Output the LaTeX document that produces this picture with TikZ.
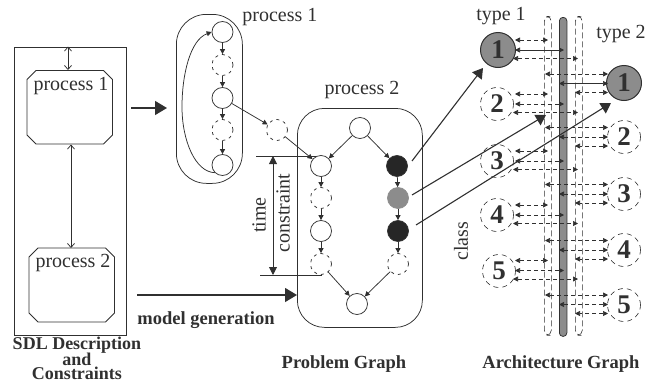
\documentclass[tikz,border=0pt]{standalone}
\usepackage{fontspec}
\setmainfont{Liberation Serif}
\usetikzlibrary{arrows.meta}
\definecolor{ink}{HTML}{303030}
\definecolor{busgray}{HTML}{8C8C8C}
\tikzset{
  every node/.style={text=ink,inner sep=0pt},
  lbl/.style={font=\fontsize{20}{20}\selectfont},
  captxt/.style={font=\fontsize{18.5}{16}\selectfont\bfseries},
  sdltxt/.style={font=\fontsize{18}{16}\selectfont\bfseries,anchor=base},
  numtxt/.style={font=\fontsize{27}{27}\selectfont\bfseries},
  pnode/.style={circle,draw,fill=white,minimum size=21pt},
  pdash/.style={pnode,dash pattern=on 3pt off 4pt},
  pblack/.style={pnode,fill=black!85},
  pgray/.style={pnode,fill=busgray,draw=busgray},
  anode/.style={circle,draw,line width=1pt,fill=busgray,minimum size=35pt,numtxt},
  adash/.style={circle,draw,minimum size=33pt,numtxt,dash pattern=on 5pt off 4pt,line width=0.6pt},
  tipsmall/.style={-{Triangle[length=5pt,width=5pt]}},
  tipboth/.style={{Triangle[length=5pt,width=5pt]}-{Triangle[length=5pt,width=5pt]}},
  tipbothd/.style={tipboth,dash pattern=on 4pt off 3pt,line width=0.7pt},
  tipopen/.style={{Straight Barb[length=4pt,width=7pt]}-{Straight Barb[length=4pt,width=7pt]}},
  tipbig/.style={-{Triangle[length=12pt,width=14pt]},line width=1.2pt},
  tipmid/.style={-{Triangle[length=10pt,width=12pt]},line width=1.1pt},
  railbox/.style={draw,rounded corners=5pt,dash pattern=on 6pt off 3pt,line width=0.6pt},
}
\begin{document}
\begin{tikzpicture}[x=1pt,y=-1pt,color=ink,line width=0.75pt]
\useasboundingbox (0,0) rectangle (646,383);
% SDL box
\node[draw,minimum width=112pt,minimum height=288.5pt,anchor=north west] (sdl) at (14,46.5) {};
\draw (36,70.5) -- (103.5,70.5) -- (112.5,79.5) -- (112.5,135) -- (103.5,144) -- (36,144) -- (27,135) -- (27,79.5) -- cycle;
\draw (38,248) -- (105.5,248) -- (114.5,257) -- (114.5,313) -- (105.5,322) -- (38,322) -- (29,313) -- (29,257) -- cycle;
\node[lbl] (sp1t) at (71,86) {process 1};
\node[lbl] (sp2t) at (73,263) {process 2};
\coordinate (sdltop) at (68,46.5);
\coordinate (p1top) at (68,70);
\coordinate (p1bot) at (71,144.5);
\coordinate (p2top) at (71,248);
\draw[tipopen] (sdltop) -- (p1top);
\draw[tipopen] (p1bot) -- (p2top);
\node[sdltxt] (sdlcap1) at (77,349) {SDL Description};
\node[sdltxt] (sdlcap2) at (77,365) {and};
\node[sdltxt] (sdlcap3) at (77,379) {Constraints};
% Process 1
\node[draw,rounded corners=30pt,minimum width=66pt,minimum height=169pt,anchor=north west] (pg1) at (176,14) {};
\node[lbl,anchor=west] (pg1t) at (242,17) {process 1};
\node[pnode] (a1) at (222.5,32) {};
\node[pdash] (a2) at (222.5,65) {};
\node[pnode] (a3) at (222.5,98) {};
\node[pdash] (a4) at (222.5,130) {};
\node[pnode] (a5) at (222.5,165) {};
\foreach \s/\t in {a1/a2,a2/a3,a3/a4,a4/a5} \draw[tipsmall] (\s) -- (\t);
\draw[tipsmall] (a5.south west) .. controls (195,172) and (182,140) .. (182,107) .. controls (182,75) and (190,40) .. (a1.west);
% Transfer
\node[pdash] (x) at (277,130) {};
% Process 2
\node[draw,rounded corners=27pt,minimum width=125pt,minimum height=219pt,anchor=north west] (pg2) at (297,108) {};
\node[lbl] (pg2t) at (362,90) {process 2};
\node[pnode] (top) at (360,128) {};
\node[pnode] (l1) at (321,166) {};
\node[pdash] (l2) at (321,198) {};
\node[pnode] (l3) at (321,231) {};
\node[pdash] (l4) at (321,264) {};
\node[pblack] (r1) at (397,166) {};
\node[pgray] (r2) at (398,198) {};
\node[pblack] (r3) at (398,231) {};
\node[pdash] (r4) at (398,264) {};
\node[pnode] (bot) at (357,304) {};
\foreach \s/\t in {l1/l2,l2/l3,l3/l4,r1/r2,r2/r3,r3/r4,top/l1,top/r1,l4/bot,r4/bot,a3/x,x/l1} \draw[tipsmall] (\s) -- (\t);
% time constraint
\coordinate (t1a) at (256,156); \coordinate (t1b) at (316,156);
\coordinate (t2a) at (260,275); \coordinate (t2b) at (322,275);
\draw[line width=0.9pt] (t1a) -- (t1b);
\draw[line width=0.9pt] (t2a) -- (t2b);
\coordinate (ta) at (273,156); \coordinate (tb) at (273,275);
\draw[{Triangle[length=8pt,width=8pt]}-{Triangle[length=8pt,width=8pt]},line width=0.9pt] (ta) -- (tb);
\node[lbl,rotate=90] (tt) at (259,215) {time};
\node[lbl,rotate=90] (tc) at (283,213) {constraint};
% big arrows
\coordinate (b1a) at (131,108); \coordinate (b1b) at (167,108);
\draw[tipbig] (b1a) -- (b1b);
\coordinate (b2a) at (137,295);
\draw[tipbig] (b2a) -- (pg2.west |- b2a);
\node[captxt,anchor=west] (mg) at (137,320) {model generation};
\node[captxt] (pgcap) at (344,364) {Problem Graph};
\node[captxt] (agcap) at (561,364) {Architecture Graph};
\node[lbl] (ty1) at (501,16) {type 1};
\node[lbl] (ty2) at (621,34) {type 2};
\node[lbl,rotate=90] (cl) at (461,241) {class};
% Bus
\node[railbox,minimum width=7pt,minimum height=319pt,anchor=north west] (railL) at (544,16) {};
\node[railbox,minimum width=7pt,minimum height=319pt,anchor=north west] (railR) at (575,16) {};
\node[draw,fill=busgray,rounded corners=3.5pt,minimum width=7.5pt,minimum height=319pt,anchor=north west] (bus) at (559,17) {};
% Arch nodes
\node[anode] (t1) at (498,50) {1};
\node[anode] (t2) at (624,83) {1};
\node[adash] (n2) at (497,104) {2};
\node[adash] (n3) at (497,161) {3};
\node[adash] (n4) at (497,215) {4};
\node[adash] (n5) at (499,271) {5};
\node[adash] (m2) at (624,137) {2};
\node[adash] (m3) at (624,194) {3};
\node[adash] (m4) at (624,250) {4};
\node[adash] (m5) at (624,305) {5};
% Connections left
\foreach \y/\st in {50/solid,104/tipbothd,161/tipbothd,215/tipbothd,270.5/tipbothd}{
  \coordinate (s1) at (515,\y-10); \coordinate (e1) at (548,\y-10);
  \coordinate (s2) at (515,\y);    \coordinate (e2) at (564,\y);
  \coordinate (s3) at (513,\y+8.5);\coordinate (e3) at (578,\y+8.5);
  \draw[tipbothd] (s1) -- (e1);
  \draw[tipbothd,\st] (s2) -- (e2);
  \draw[tipbothd] (s3) -- (e3);
}
% Connections right
\foreach \y/\st in {83.5/solid,137/tipbothd,194/tipbothd,250/tipbothd,304.5/tipbothd}{
  \coordinate (s1) at (608,\y-9.5); \coordinate (e1) at (545,\y-9.5);
  \coordinate (s2) at (608,\y);     \coordinate (e2) at (559,\y);
  \coordinate (s3) at (608,\y+9);   \coordinate (e3) at (575,\y+9);
  \draw[tipbothd] (s1) -- (e1);
  \draw[tipbothd,\st] (s2) -- (e2);
  \draw[tipbothd] (s3) -- (e3);
}
% Mapping arrows
\coordinate (q1) at (412,161); \coordinate (q2) at (412,195); \coordinate (q3) at (416,225);
\coordinate (h1) at (483,68); \coordinate (h2) at (546,115); \coordinate (h3) at (611,103);
\draw[tipmid] (q1) -- (h1);
\draw[tipmid] (q2) -- (h2);
\draw[tipmid] (q3) -- (h3);
\end{tikzpicture}
\end{document}
